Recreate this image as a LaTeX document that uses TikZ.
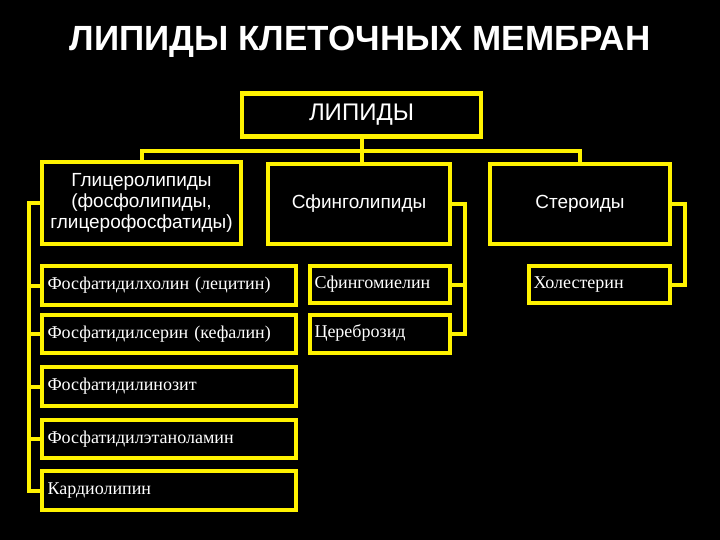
\documentclass[tikz,border=0pt]{standalone}
\usepackage{fontspec}
\setmainfont{Liberation Serif}
\setsansfont{Liberation Sans}
\begin{document}
\begin{tikzpicture}[x=1pt,y=-1pt,
  box/.style={draw=yellow, line width=3.5pt, fill=black, text=white, inner sep=0pt},
  head/.style={box, font=\sffamily\fontsize{19}{21}\selectfont, align=center},
  item/.style={box, font=\fontsize{18}{20}\selectfont, align=left},
  inner/.style={draw=yellow, line width=0.9pt},
  conn/.style={draw=yellow, line width=4pt}]
\fill[black] (0,0) rectangle (720,540);
\useasboundingbox (0,0) rectangle (720,540);
\node[text=white, font=\sffamily\bfseries\fontsize{35}{40}\selectfont] (title) at (360,42) {ЛИПИДЫ КЛЕТОЧНЫХ МЕМБРАН};
\node[head, font=\sffamily\fontsize{24}{28}\selectfont, minimum width=240pt, minimum height=44pt] (lip) at (361.5,115) {ЛИПИДЫ};
\node[head, minimum width=200pt, minimum height=83pt] (gly) at (141.5,203) {Глицеролипиды\\(фосфолипиды,\\глицерофосфатиды)};
\node[head, minimum width=183pt, minimum height=81pt] (sph) at (359,204) {Сфинголипиды};
\node[head, minimum width=181pt, minimum height=81pt] (ste) at (580,204) {Стероиды};
\node[item, minimum width=255pt, minimum height=40pt, text width=243pt] (fh) at (169,285.5) {Фосфатидилхолин (лецитин)};
\node[item, minimum width=141pt, minimum height=38pt, text width=131pt] (sm) at (380,284.5) {Сфингомиелин};
\node[item, minimum width=142pt, minimum height=38pt, text width=132pt] (hol) at (599.5,284.5) {Холестерин};
\node[item, minimum width=255pt, minimum height=39pt, text width=243pt] (fs) at (169,334) {Фосфатидилсерин (кефалин)};
\node[item, minimum width=141pt, minimum height=39pt, text width=131pt] (cer) at (380,334) {\raisebox{6pt}{Цереброзид}};
\node[item, minimum width=255pt, minimum height=40pt, text width=243pt] (fi) at (169,386.5) {Фосфатидилинозит};
\node[item, minimum width=255pt, minimum height=39pt, text width=243pt] (fe) at (169,439) {Фосфатидилэтаноламин};
\node[item, minimum width=255pt, minimum height=40pt, text width=243pt] (kar) at (169,490.5) {Кардиолипин};
\foreach \n in {lip,gly,sph,ste,fh,sm,hol,fs,cer,fi,fe,kar}
  \draw[inner] ([shift={(4pt,4pt)}]\n.south west) rectangle ([shift={(-4pt,-4pt)}]\n.north east);
\draw[conn] (lip.south) -- (lip.south |- sph.north);
\draw[conn] (gly.north) -- ++(0,-9) -| (ste.north);
\draw[conn] (gly.west) -- ++(-11,0) |- (kar.west);
\foreach \n in {fh,fs,fi,fe} \draw[conn] (\n.west) -- ++(-11,0);
\draw[conn] (sph.east) -- ++(13,0) |- (cer.east);
\draw[conn] (sm.east) -- ++(13,0);
\draw[conn] (ste.east) -- ++(13,0) |- (hol.east);
\end{tikzpicture}
\end{document}
